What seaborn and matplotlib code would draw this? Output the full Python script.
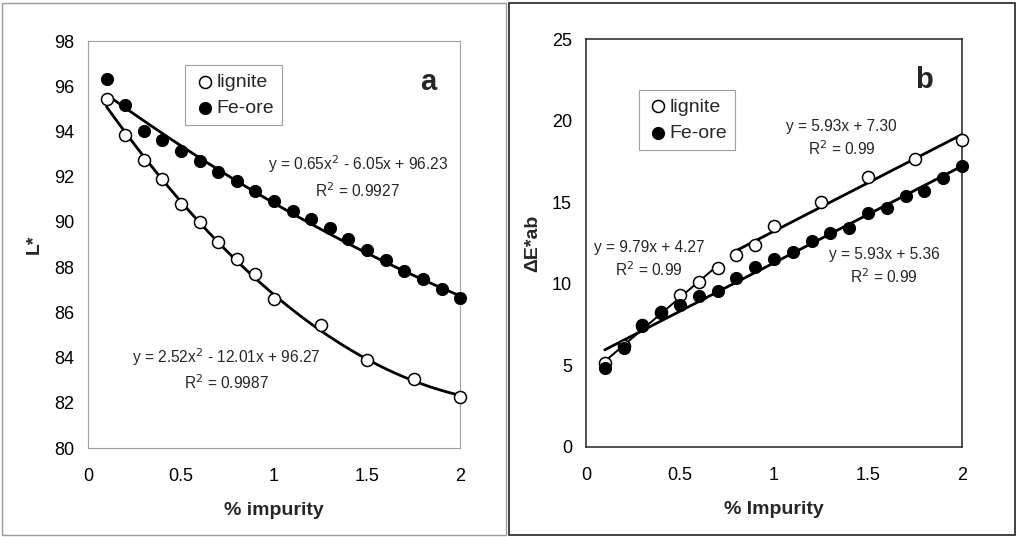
import numpy as np
import pandas as pd
import matplotlib
matplotlib.use("Agg")
import matplotlib.pyplot as plt
from matplotlib.patches import Rectangle
import seaborn as sns

sns.set_theme(style="white")
plt.rcParams['font.family'] = ['Liberation Sans', 'DejaVu Sans']

# ---- Panel a data: L* ----
a_lignite_x = [0.1, 0.2, 0.3, 0.4, 0.5, 0.6, 0.7, 0.8, 0.9, 1.0, 1.25, 1.5, 1.75, 2.0]
a_lignite_y = [95.42, 93.84, 92.72, 91.89, 90.79, 89.98, 89.09, 88.38, 87.69, 86.57, 85.45, 83.90, 83.04, 82.26]
a_fe_x = [0.1, 0.2, 0.3, 0.4, 0.5, 0.6, 0.7, 0.8, 0.9, 1.0, 1.1, 1.2, 1.3, 1.4, 1.5, 1.6, 1.7, 1.8, 1.9, 2.0]
a_fe_y = [96.33, 95.15, 94.03, 93.62, 93.13, 92.68, 92.22, 91.80, 91.38, 90.92, 90.49, 90.15, 89.73, 89.25,
          88.75, 88.32, 87.84, 87.48, 87.04, 86.64]
a_fe_coef = [0.65, -6.05, 96.23]
a_lig_coef = [2.52, -12.01, 96.27]
a_fe_eq = "y = 0.65x$^2$ - 6.05x + 96.23\nR$^2$ = 0.9927"
a_lig_eq = "y = 2.52x$^2$ - 12.01x + 96.27\nR$^2$ = 0.9987"

# ---- Panel b data: dE*ab ----
b_lignite_x = [0.1, 0.2, 0.3, 0.4, 0.5, 0.6, 0.7, 0.8, 0.9, 1.0, 1.25, 1.5, 1.75, 2.0]
b_lignite_y = [5.13, 6.2, 7.5, 8.3, 9.31, 10.13, 10.99, 11.75, 12.38, 13.54, 15.03, 16.56, 17.65, 18.81]
b_fe_x = a_fe_x
b_fe_y = [4.82, 6.09, 7.41, 8.19, 8.70, 9.27, 9.58, 10.38, 11.05, 11.50, 11.97, 12.62, 13.09, 13.42,
          14.32, 14.66, 15.38, 15.69, 16.50, 17.24]
b_lig1_coef = [9.79, 4.27]   # fitted over 0.1-0.7
b_lig2_coef = [5.93, 7.30]   # fitted over 0.8-2.0
b_fe_coef = [5.93, 5.36]
b_lig2_eq = "y = 5.93x + 7.30\nR$^2$ = 0.99"
b_lig1_eq = "y = 9.79x + 4.27\nR$^2$ = 0.99"
b_fe_eq = "y = 5.93x + 5.36\nR$^2$ = 0.99"

fig = plt.figure(figsize=(10.18, 5.37), dpi=100)
fig.patch.set_facecolor("white")

# outer frames
fig.patches.append(Rectangle((2/1018, 2/537), 504/1018, 532/537, transform=fig.transFigure,
                             fill=False, edgecolor="#9a9a9a", lw=1.0))
fig.patches.append(Rectangle((509/1018, 2/537), 506/1018, 532/537, transform=fig.transFigure,
                             fill=False, edgecolor="#333333", lw=1.3))

axA = fig.add_axes([0.0864, 0.1657, 0.452 - 0.0864, 0.9236 - 0.1657])
axB = fig.add_axes([0.5756, 0.1676, 0.945 - 0.5756, 0.927 - 0.1676])

ms = 75
open_kw = dict(facecolor="white", edgecolor="black", linewidth=1.1, s=ms, zorder=4, clip_on=False)
fill_kw = dict(color="black", edgecolor="black", linewidth=0.8, s=ms, zorder=5, clip_on=False)

def fit_df(coef, x0, x1):
    xs = np.linspace(x0, x1, 100)
    return pd.DataFrame({"x": xs, "y": np.polyval(coef, xs)})

eq_fs = 11.2
tick_fs = 13
lab_fs = 14
leg_fs = 14
let_fs = 21

# ---- Panel a ----
d = fit_df(a_fe_coef, 0.1, 2.0)
sns.lineplot(data=d, x="x", y="y", ax=axA, color="black", lw=2.0, zorder=2)
d = fit_df(a_lig_coef, 0.1, 2.0)
sns.lineplot(data=d, x="x", y="y", ax=axA, color="black", lw=2.0, zorder=2)
sns.scatterplot(x=a_lignite_x, y=a_lignite_y, ax=axA, label="lignite", **open_kw)
sns.scatterplot(x=a_fe_x, y=a_fe_y, ax=axA, label="Fe-ore", **fill_kw)

axA.set_xlim(0, 2)
axA.set_ylim(80, 98)
axA.set_xticks([0, 0.5, 1, 1.5, 2])
axA.set_xticklabels(["0", "0.5", "1", "1.5", "2"])
axA.set_yticks(range(80, 99, 2))
axA.set_xlabel("% impurity", fontsize=lab_fs, fontweight="bold", labelpad=12)
axA.set_ylabel("L*", fontsize=lab_fs, fontweight="bold", labelpad=8)
for s in axA.spines.values():
    s.set_color("#a0a0a0")
    s.set_linewidth(0.8)
axA.tick_params(axis="both", direction="out", length=4, width=0.8, color="#a0a0a0",
                labelsize=tick_fs, labelcolor="black", pad=6)
axA.tick_params(axis="x", pad=10.5)
axA.text(1.83, 96.2, "a", fontsize=let_fs, fontweight="bold", ha="center", va="center")
axA.text(1.45, 92.0, a_fe_eq, fontsize=eq_fs, ha="center", va="center", linespacing=1.35)
axA.text(0.745, 83.5, a_lig_eq, fontsize=eq_fs, ha="center", va="center", linespacing=1.35)
leg = axA.legend(loc="upper left", bbox_to_anchor=(0.262, 0.94), fontsize=leg_fs, frameon=True,
                 fancybox=False, edgecolor="#888888", handletextpad=0.0, borderpad=0.4,
                 labelspacing=0.45, handlelength=1.2, borderaxespad=0)
leg.get_frame().set_linewidth(0.8)

# ---- Panel b ----
d = fit_df(b_fe_coef, 0.1, 2.0)
sns.lineplot(data=d, x="x", y="y", ax=axB, color="black", lw=2.0, zorder=2)
d = fit_df(b_lig1_coef, 0.1, 0.7)
sns.lineplot(data=d, x="x", y="y", ax=axB, color="black", lw=1.4, zorder=2)
d = fit_df(b_lig2_coef, 0.8, 2.0)
sns.lineplot(data=d, x="x", y="y", ax=axB, color="black", lw=2.0, zorder=2)
sns.scatterplot(x=b_lignite_x, y=b_lignite_y, ax=axB, label="lignite", **open_kw)
sns.scatterplot(x=b_fe_x, y=b_fe_y, ax=axB, label="Fe-ore", **fill_kw)

axB.set_xlim(0, 2)
axB.set_ylim(0, 25)
axB.set_xticks([0, 0.5, 1, 1.5, 2])
axB.set_xticklabels(["0", "0.5", "1", "1.5", "2"])
axB.set_yticks([0, 5, 10, 15, 20, 25])
axB.set_xlabel("% Impurity", fontsize=lab_fs, fontweight="bold", labelpad=12)
axB.set_ylabel("ΔE*ab", fontsize=lab_fs, fontweight="bold", labelpad=8)
for s in axB.spines.values():
    s.set_color("#222222")
    s.set_linewidth(1.1)
axB.tick_params(axis="both", direction="out", length=4, width=0.9, color="#222222",
                labelsize=tick_fs, labelcolor="black", pad=6)
axB.tick_params(axis="x", pad=10.5)
axB.text(1.80, 22.5, "b", fontsize=let_fs, fontweight="bold", ha="center", va="center")
axB.text(1.36, 18.9, b_lig2_eq, fontsize=eq_fs, ha="center", va="center", linespacing=1.35)
axB.text(0.335, 11.5, b_lig1_eq, fontsize=eq_fs, ha="center", va="center", linespacing=1.35)
axB.text(1.585, 11.05, b_fe_eq, fontsize=eq_fs, ha="center", va="center", linespacing=1.35)
leg = axB.legend(loc="upper left", bbox_to_anchor=(0.14, 0.875), fontsize=leg_fs, frameon=True,
                 fancybox=False, edgecolor="#888888", handletextpad=0.0, borderpad=0.4,
                 labelspacing=0.45, handlelength=1.2, borderaxespad=0)
leg.get_frame().set_linewidth(0.8)

fig.savefig("out.png", dpi=100, facecolor="white")
